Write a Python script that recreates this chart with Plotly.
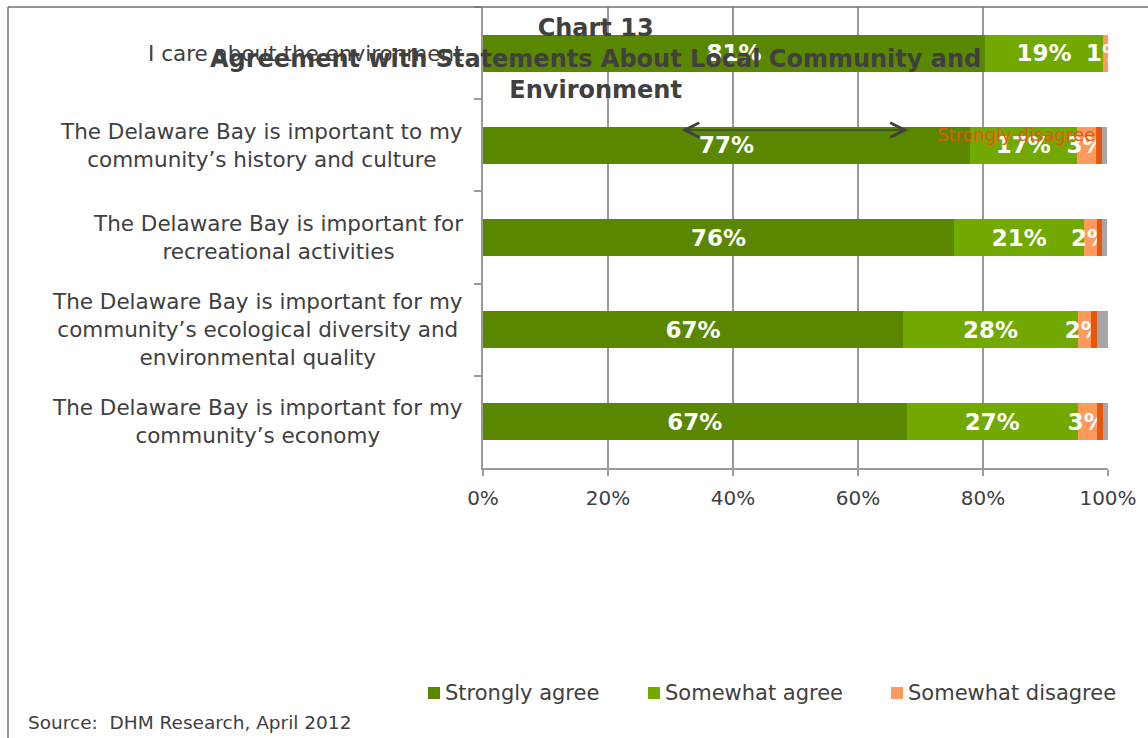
import plotly.graph_objects as go

# ---------------- data ----------------
categories = [
    "I care about the environment",
    "The Delaware Bay is important to my<br>community\u2019s history and culture",
    "The Delaware Bay is important for<br>recreational activities",
    "The Delaware Bay is important for my<br>community\u2019s ecological diversity and<br>environmental quality",
    "The Delaware Bay is important for my<br>community\u2019s economy",
]
series_names = ["Strongly agree", "Somewhat agree", "Somewhat disagree", "Strongly disagree", "Don't know"]
strongly_agree = [80.3, 77.9, 75.4, 67.2, 67.8]
somewhat_agree = [18.9, 17.1, 20.8, 28.0, 27.4]
somewhat_disagree = [0.8, 3.0, 2.0, 2.0, 3.0]
strongly_disagree = [0.0, 1.1, 0.9, 1.0, 1.0]
dont_know = [0.0, 0.8, 0.8, 1.8, 0.8]
label_sa = ["81%", "77%", "76%", "67%", "67%"]
label_swa = ["19%", "17%", "21%", "28%", "27%"]
label_swd = ["1%", "3%", "2%", "2%", "3%"]
x_tick_vals = [0, 20, 40, 60, 80, 100]
x_tick_text = ["0%", "20%", "40%", "60%", "80%", "100%"]
title_lines = ["Chart 13", "Agreement with Statements About Local Community and", "Environment"]
source_text = "Source:  DHM Research, April 2012"

colors = ["#5a8700", "#72a900", "#ff9a5e", "#e8560c", "#a6a6a6"]
values = [strongly_agree, somewhat_agree, somewhat_disagree, strongly_disagree, dont_know]
labels = [label_sa, label_swa, label_swd, None, None]

TXT = "#404040"
GRID = "#9a9a9a"
FONT = "DejaVu Sans"

W, H = 1148, 738
ML, MR, MT, MB = 483, 40, 7, 270
PW, PH = W - ML - MR, H - MT - MB

def px_x(p):
    return (p - ML) / PW

def px_y(p):
    return (H - MB - p) / PH

fig = go.Figure()
for name, vals, col, lab in zip(series_names, values, colors, labels):
    fig.add_trace(go.Bar(
        y=categories, x=vals, name=name, orientation="h",
        marker=dict(color=col, line=dict(width=0)),
        text=lab, textposition="inside" if lab else "none",
        insidetextanchor="middle", textangle=0, constraintext="none",
        insidetextfont=dict(family=FONT, size=23, color="white", weight="bold"),
        showlegend=False, hoverinfo="skip", cliponaxis=True,
    ))

annotations = []
shapes = []
for cat in categories:
    annotations.append(dict(
        x=px_x(465), xref="paper", y=cat, yref="y", text=cat,
        xanchor="right", yanchor="middle", align="center", showarrow=False,
        font=dict(family=FONT, size=21.5, color=TXT),
    ))

# legend (first three series, as in the original), drawn as swatch + label
legend_left_px = [428, 648, 891]
LEG_Y = 693
for name, col, lx in zip(series_names[:3], colors[:3], legend_left_px):
    shapes.append(dict(type="rect", xref="paper", yref="paper",
                       x0=px_x(lx), x1=px_x(lx + 12), y0=px_y(LEG_Y - 6), y1=px_y(LEG_Y + 6),
                       fillcolor=col, line=dict(width=0)))
    annotations.append(dict(x=px_x(lx + 15), y=px_y(LEG_Y), xref="paper", yref="paper",
                            text=name, showarrow=False, xanchor="left", yanchor="middle",
                            font=dict(family=FONT, size=21, color=TXT)))

# stray legend label and arrow left in the original chart
annotations.append(dict(
    x=px_x(1016), y=px_y(134), xref="paper", yref="paper", text=series_names[3],
    showarrow=False, xanchor="center", yanchor="middle",
    font=dict(family=FONT, size=18, color="#e8560c"),
))
annotations.append(dict(
    x=px_x(908), y=px_y(130), xref="paper", yref="paper",
    ax=-(908 - 680), ay=0, axref="pixel", ayref="pixel",
    text="", showarrow=True, arrowhead=5, startarrowhead=5, arrowside="end+start",
    arrowsize=2.2, startarrowsize=2.2, arrowwidth=1.3, arrowcolor="#404040",
))

# title
annotations.append(dict(
    x=px_x(595), y=px_y(59), xref="paper", yref="paper",
    text="<br>".join(title_lines), showarrow=False, xanchor="center", yanchor="middle",
    align="center", font=dict(family=FONT, size=24, color=TXT, weight="bold"),
))

# source
annotations.append(dict(
    x=px_x(26), y=px_y(722), xref="paper", yref="paper", text=source_text,
    showarrow=False, xanchor="left", yanchor="middle",
    font=dict(family=FONT, size=18.5, color=TXT),
))

shapes += [
    dict(type="line", xref="paper", yref="paper", x0=px_x(8), x1=px_x(1160), y0=px_y(7), y1=px_y(7),
         line=dict(color="#707070", width=1.5)),
    dict(type="line", xref="paper", yref="paper", x0=px_x(8), x1=px_x(8), y0=px_y(7), y1=px_y(750),
         line=dict(color="#707070", width=1.5)),
]

fig.update_layout(
    width=W, height=H,
    margin=dict(l=ML, r=MR, t=MT, b=MB, pad=0),
    paper_bgcolor="white", plot_bgcolor="white",
    barmode="stack", bargap=0.6,
    font=dict(family=FONT, color=TXT),
    showlegend=False,
    annotations=annotations,
    shapes=shapes,
    xaxis=dict(range=[0, 100], tickvals=x_tick_vals, ticktext=x_tick_text,
               showgrid=True, gridcolor=GRID, gridwidth=1.5,
               showline=True, linecolor=GRID, linewidth=1.5,
               ticks="outside", ticklen=6, tickcolor=GRID, tickwidth=1.5, ticklabelstandoff=5,
               tickfont=dict(family=FONT, size=20, color=TXT), zeroline=False, fixedrange=True),
    yaxis=dict(autorange="reversed", showticklabels=False, showgrid=False,
               showline=True, linecolor=GRID, linewidth=1.5,
               ticks="outside", tickson="boundaries", ticklen=7, tickcolor=GRID, tickwidth=1.5,
               zeroline=False, fixedrange=True),
)

fig.write_html("out.html")
